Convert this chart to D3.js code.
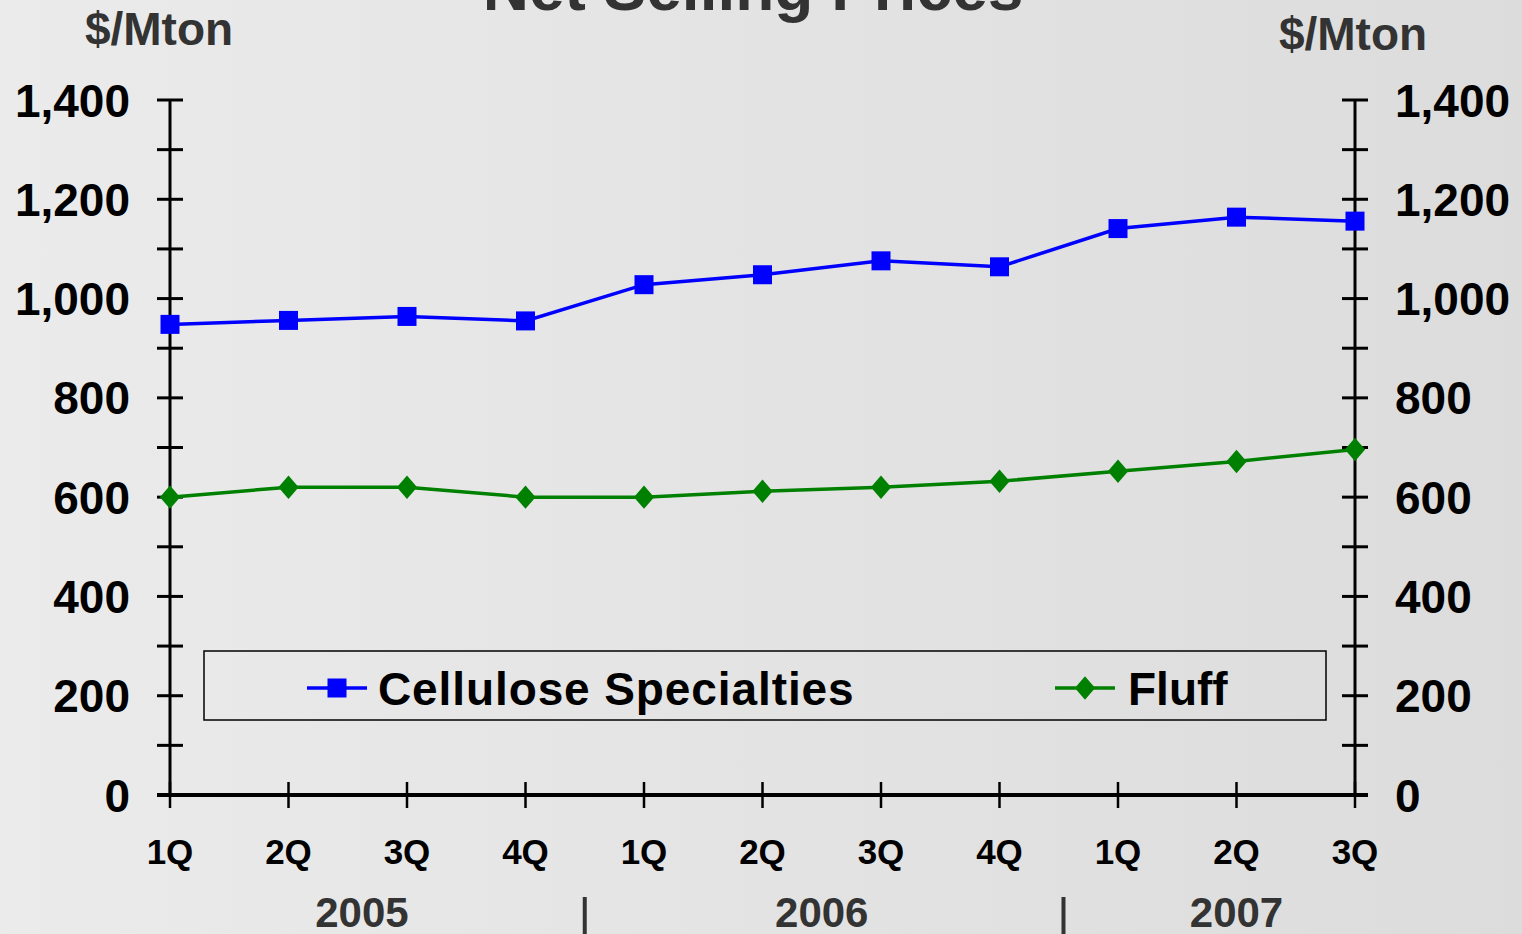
<!DOCTYPE html>
<html>
<head>
<meta charset="utf-8">
<script src="https://cdn.jsdelivr.net/npm/d3@7"></script>
<style>
  html, body { margin: 0; padding: 0; }
  body { width: 1522px; height: 934px; overflow: hidden; }
  svg { display: block; font-family: "Liberation Sans", Arial, sans-serif; }
</style>
</head>
<body>
<svg id="chart" width="1522" height="934"></svg>
<script>
// Quarterly net selling prices, $/Mton
const quarters = ["1Q", "2Q", "3Q", "4Q", "1Q", "2Q", "3Q", "4Q", "1Q", "2Q", "3Q"];
const years = ["2005", "2006", "2007"];
const cellulose = [948, 956, 964, 955, 1028, 1048, 1076, 1064, 1141, 1164, 1156];
const fluff = [600, 620, 620, 600, 600, 612, 620, 632, 652, 672, 696];
const yTicks = [0, 200, 400, 600, 800, 1000, 1200, 1400];
const yMinorTicks = d3.range(0, 1401, 100);

const svg = d3.select("#chart");
const W = 1522, H = 934;

// background shading
const defs = svg.append("defs");
const grad = defs.append("linearGradient").attr("id", "bg").attr("x1", "0").attr("x2", "1").attr("y1", "0").attr("y2", "0");
grad.append("stop").attr("offset", "0%").attr("stop-color", "#ebebeb");
grad.append("stop").attr("offset", "100%").attr("stop-color", "#dcdcdc");
svg.append("rect").attr("width", W).attr("height", H).attr("fill", "url(#bg)");

const x = d3.scalePoint().domain(d3.range(quarters.length)).range([170, 1355]);
const xf = v => x(0) + v * x.step();   // fractional quarter position
const y = d3.scaleLinear().domain([0, 1400]).range([795, 100]);

// title (partly above the frame)
svg.append("text").attr("x", 753).attr("y", 10).attr("text-anchor", "middle")
  .attr("font-size", 64).attr("font-weight", "bold").attr("fill", "#333")
  .text("Net Selling Prices");

// unit labels
svg.append("text").attr("x", 159).attr("y", 45).attr("text-anchor", "middle")
  .attr("font-size", 46).attr("font-weight", "bold").attr("fill", "#333").text("$/Mton");
svg.append("text").attr("x", 1353).attr("y", 50).attr("text-anchor", "middle")
  .attr("font-size", 46).attr("font-weight", "bold").attr("fill", "#333").text("$/Mton");

// y axes with ticks crossing the line
function yAxis(xPos, labelSide) {
  const g = svg.append("g");
  g.append("line").attr("x1", xPos).attr("x2", xPos).attr("y1", y(1400)).attr("y2", y(0))
    .attr("stroke", "#000").attr("stroke-width", 3);
  g.selectAll("line.tk").data(yMinorTicks).join("line").attr("class", "tk")
    .attr("x1", xPos - 13).attr("x2", xPos + 13)
    .attr("y1", d => y(d)).attr("y2", d => y(d))
    .attr("stroke", "#000").attr("stroke-width", 3);
  g.selectAll("text").data(yTicks).join("text")
    .attr("x", labelSide < 0 ? xPos - 40 : xPos + 40)
    .attr("y", d => y(d))
    .attr("dy", "0.36em")
    .attr("text-anchor", labelSide < 0 ? "end" : "start")
    .attr("font-size", 46).attr("font-weight", "bold").attr("fill", "#000")
    .text(d => d3.format(",")(d));
}
yAxis(x(0), -1);
yAxis(x(quarters.length - 1), 1);

// x axis
svg.append("line").attr("x1", x(0) - 13).attr("x2", x(quarters.length - 1) + 13)
  .attr("y1", y(0)).attr("y2", y(0)).attr("stroke", "#000").attr("stroke-width", 4);
svg.append("g").selectAll("line").data(d3.range(quarters.length)).join("line")
  .attr("x1", d => x(d)).attr("x2", d => x(d)).attr("y1", y(0) - 13).attr("y2", y(0) + 13)
  .attr("stroke", "#000").attr("stroke-width", 2.5);
svg.append("g").selectAll("text").data(quarters).join("text")
  .attr("x", (d, i) => x(i)).attr("y", 864).attr("text-anchor", "middle")
  .attr("font-size", 35).attr("font-weight", "bold").attr("fill", "#000").text(d => d);

// year labels and separators
const yearPos = [1.62, 5.5, 9.0];
svg.append("g").selectAll("text").data(years).join("text")
  .attr("x", (d, i) => xf(yearPos[i]))
  .attr("y", 927).attr("text-anchor", "middle")
  .attr("font-size", 42).attr("font-weight", "bold").attr("fill", "#333").text(d => d);
svg.append("g").selectAll("line").data([3.5, 7.54]).join("line")
  .attr("x1", d => xf(d)).attr("x2", d => xf(d))
  .attr("y1", 897).attr("y2", 934).attr("stroke", "#333").attr("stroke-width", 4);

// series
const line = d3.line().x((d, i) => x(i)).y(d => y(d));
svg.append("path").datum(fluff).attr("d", line).attr("fill", "none")
  .attr("stroke", "#008000").attr("stroke-width", 3.5);
svg.append("path").datum(cellulose).attr("d", line).attr("fill", "none")
  .attr("stroke", "#0000ff").attr("stroke-width", 3.5);

const diamond = d3.symbol().type(d3.symbolDiamond2).size(290);
svg.append("g").selectAll("path").data(fluff).join("path")
  .attr("transform", (d, i) => `translate(${x(i)},${y(d)}) scale(0.95,1.1)`)
  .attr("d", diamond).attr("fill", "#008000");
const sq = 19;
svg.append("g").selectAll("rect").data(cellulose).join("rect")
  .attr("x", (d, i) => x(i) - sq / 2).attr("y", d => y(d) - sq / 2)
  .attr("width", sq).attr("height", sq).attr("fill", "#0000ff");

// legend
const lg = svg.append("g");
lg.append("rect").attr("x", 204).attr("y", 651).attr("width", 1122).attr("height", 69)
  .attr("fill", "none").attr("stroke", "#000").attr("stroke-width", 1.5);
lg.append("line").attr("x1", 307).attr("x2", 367).attr("y1", 688).attr("y2", 688)
  .attr("stroke", "#0000ff").attr("stroke-width", 3.5);
lg.append("rect").attr("x", 337 - sq / 2).attr("y", 688 - sq / 2).attr("width", sq).attr("height", sq).attr("fill", "#0000ff");
lg.append("text").attr("x", 378).attr("y", 705).attr("font-size", 46).attr("font-weight", "bold")
  .attr("letter-spacing", 0.9).attr("fill", "#000").text("Cellulose Specialties");
lg.append("line").attr("x1", 1055).attr("x2", 1115).attr("y1", 688).attr("y2", 688)
  .attr("stroke", "#008000").attr("stroke-width", 3.5);
lg.append("path").attr("transform", "translate(1085,688) scale(0.95,1.1)").attr("d", diamond).attr("fill", "#008000");
lg.append("text").attr("x", 1128).attr("y", 705).attr("font-size", 46).attr("font-weight", "bold")
  .attr("fill", "#000").text("Fluff");
</script>
</body>
</html>
